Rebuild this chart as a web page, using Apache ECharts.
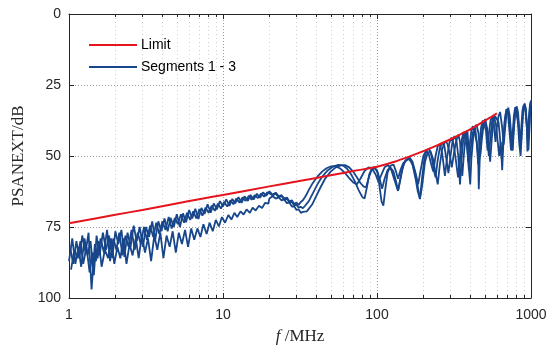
<!DOCTYPE html>
<html>
<head>
<meta charset="utf-8">
<script src="https://cdn.jsdelivr.net/npm/echarts@6/dist/echarts.min.js"></script>
<style>html,body{margin:0;padding:0;background:#fff}#c{width:552px;height:350px}</style>
</head>
<body>
<div id="c"></div>
<script>
// ---- data ----
const xTickLabels = ['1', '10', '100', '1000'];
const yTicks = [0, 25, 50, 75, 100];
const minorFreqs = [2,3,4,5,6,7,8,9,20,30,40,50,60,70,80,90,200,300,400,500,600,700,800,900];

const limitFreq = [1,2,3,5,7,10,20,30,50,70,100,130,160,200,250,300,350,400,450,500,550,600];
const limitVal  = [73.7,70.7,69,66.7,65.2,63.7,60.7,59,56.8,55.3,53.8,52,50.3,48.3,46.1,44.1,42.3,40.7,39.1,37.6,36.3,35];

const freqLowA = [1.00,1.05,1.10,1.15,1.20,1.26,1.32,1.38,1.45,1.51,1.58,1.66,1.74,1.82,1.91,2.00,2.09,2.19,2.29,2.40,2.51,2.63,2.75,2.88,3.02,3.16,3.31,3.47,3.63,3.80,3.98,4.17,4.37,4.57,4.79,5.01,5.25,5.50,5.75,6.03,6.31,6.61,6.92,7.24,7.59,7.94,8.32,8.71,9.12,9.55,10.0,10.5,11.0,11.5,12.0,12.6,13.2,13.8,14.5,15.1,15.8,16.6,17.4,18.2,19.1];
const freqLowB = [1.015,1.066,1.117,1.168,1.219,1.280,1.340,1.401,1.472,1.533,1.604,1.686,1.767,1.848,1.940,2.031,2.122,2.224,2.325,2.437,2.549,2.671,2.793,2.925,3.067,3.209,3.361,3.524,3.686,3.859,4.042,4.235,4.438,4.641,4.864,5.088,5.331,5.585,5.839,6.123,6.408,6.712,7.027,7.352,7.707,8.063,8.449,8.845,9.261,9.698,10.16,10.66,11.17,11.68,12.19,12.80,13.40,14.01,14.72,15.33,16.04,16.86,17.67,18.48,19.40];
const freqLowC = [1.031,1.083,1.134,1.186,1.237,1.299,1.361,1.423,1.495,1.557,1.629,1.711,1.794,1.876,1.969,2.062,2.155,2.258,2.361,2.474,2.588,2.712,2.835,2.969,3.114,3.258,3.413,3.578,3.743,3.918,4.103,4.299,4.505,4.712,4.938,5.165,5.413,5.671,5.928,6.217,6.506,6.815,7.135,7.464,7.825,8.186,8.578,8.980,9.403,9.846,10.31,10.83,11.34,11.86,12.37,12.99,13.61,14.23,14.95,15.57,16.29,17.11,17.94,18.76,19.69];

const seg1Low = [87,79,88,82,89,79,85,80,92,78,85,77,83,78,86,76.5,81,76,85.5,77,82,74.5,80,75,82,75,78.5,73,79.5,73,76.5,72,76.5,71.8,75,70.5,75,70.2,73.3,69,72,68.6,72.2,68.3,70.4,67,70,66.7,68.8,65.9,67.7,65.3,67.6,65.1,66.7,64.5,66.5,64.2,65.8,63.7,65.3,63.3,64.7,62.8,64];
const seg2Low = [82,88,80,86,78,84,77,97,81,86,79,84,76,87,79,83,77,85,78,82,76,83,77,81,75,79.5,74.5,78.5,73.5,77.5,73,76,71.5,75.5,71.8,74,70.5,73.5,70,72.5,69.5,72,68.7,71,68.2,70,67.5,69.3,66.8,68.5,66.2,67.8,65.6,67,65,66.4,64.6,65.8,64,65.4,63.8,64.8,63.2,64.3,62.8];
const seg3Low = [90,83,86,80,88,82,91,84,87,80,89,83,86,79,88,82,86,79,88,81,85,79,86,78,84,79,87,78,83,77,86,78,82,76.5,84,77,81,76,82,75.5,79.5,75.5,78.5,74,77.5,73.5,76.5,72.5,74.8,71.5,73.5,70.8,72.4,70,71.5,69.5,70.6,68.8,70,68.2,69.2,67.5,68.3,66.5,66.8];

const seg1High = [[20,62.5],[21,63.6],[22,62.9],[23,64.2],[24,63.8],[25,65],[26,64.6],[27,66],[28,65.6],[29,66.9],[30,66.4],[31,67.2],[32,66.2],[33,65.6],[34,64.5],[35,63.4],[36,62],[38,59.8],[41,57.3],[44,55.5],[47,54.3],[50,53.7],[54,53.6],[58,54.5],[62,56],[66,57.8],[70,59.3],[74,60],[78,58],[83,55.3],[88,54],[93,54.5],[98,56.5],[102,59],[106,57],[112,54],[118,53.2],[124,55],[130,58.5],[137,62.3],[144,56],[150,52.5],[156,51.3],[163,50.5],[170,52],[178,56],[185,60],[192,55],[200,50],[208,48.2],[216,49],[225,53],[232,55.5],[240,50],[248,46.5],[256,46],[265,49],[276,57],[286,50],[296,45],[305,43.5],[315,46],[326,52],[336,57.5],[346,50],[356,44],[365,41.5],[375,42],[385,47],[395,55],[405,48],[418,42],[430,40],[443,39],[456,42],[468,50],[480,44],[493,38.5],[505,37.3],[518,40],[530,46],[543,52],[556,44],[570,38],[585,36],[600,35.5],[615,38],[630,44],[645,51],[660,45],[675,38],[690,34.5],[705,33.5],[720,36],[738,43],[755,48],[770,41],[786,35],[800,33],[815,34],[830,39],[848,45],[865,40],[880,34],[897,32],[915,33],[935,38],[955,46],[972,40],[985,33],[1000,31]];
const seg2High = [[20,63],[21,63.9],[22,63.3],[23,64.6],[24,64.1],[25,65.5],[26,65],[27,66.4],[28,66.1],[29,67.4],[30,67.1],[31,68.2],[32,67.9],[33,68.4],[34,67.6],[36,66],[38,63.5],[41,60],[44,57.3],[48,55],[52,53.7],[56,53.1],[60,53.3],[64,54.5],[68,56.5],[72,59],[76,62],[80,64.3],[83,65],[86,61],[89,56.5],[93,54.2],[97,54],[101,56],[104,61],[107,66],[110,67.5],[113,62],[117,56],[122,53.5],[128,53],[133,55.5],[137,58],[142,55],[148,52.5],[155,51.5],[162,51],[170,53],[178,58],[184,62.5],[190,65],[196,58],[203,51],[210,48],[218,47.5],[226,50],[234,55],[240,57.5],[247,52],[255,47.5],[264,45.5],[273,46],[282,51],[291,56],[300,50],[309,45],[318,43],[328,44.5],[337,50],[346,60],[354,51],[362,45],[372,41.5],[382,42.5],[391,52],[400,46],[410,41],[420,39.5],[432,40],[444,45],[454,53],[462,46],[474,40],[486,37.5],[498,37],[510,41],[522,48],[533,42],[546,37.5],[560,36],[575,39],[588,45],[600,40],[615,36],[630,34.5],[650,40],[665,46],[680,40],[695,34.5],[712,33],[728,36],[745,43],[760,48],[776,40],[792,34],[808,32.5],[825,35],[842,42],[858,47],[875,39],[892,33],[910,31.5],[928,34],[945,41],[962,48],[978,40],[992,32],[1000,31.5]];
const seg3High = [[20,65],[21,64.2],[22,65],[23,64.6],[24,65.6],[25,65.3],[26,66.6],[27,66.4],[28,67.8],[29,67.7],[30,69],[31,68.8],[32,70],[33,69.7],[34,70.2],[35,69.5],[36,68.8],[38,67],[40,64.5],[43,61],[46,58],[50,55.5],[54,54],[58,53.3],[62,53.2],[66,54],[70,55.5],[74,57.5],[78,59.5],[82,60.8],[85,61],[88,58],[92,55],[96,54.3],[100,55],[104,58],[108,61.5],[112,58],[117,55],[122,54],[128,55.5],[133,59],[137,62.3],[141,59],[147,54],[153,51.5],[160,51],[168,52],[175,55],[183,60],[190,65.2],[197,60],[205,52],[213,49],[222,48.2],[231,51],[240,56],[248,60],[256,53],[264,48],[275,45],[286,45.5],[296,49],[306,54],[316,49],[327,44.5],[338,42.5],[346,45],[352,52],[358,57],[366,50],[376,43],[386,41],[391,45],[396,55],[403,60],[410,51],[422,43],[434,40],[446,40.5],[454,50],[458,61.7],[464,52],[476,43],[490,38.5],[504,37],[518,42],[532,50],[546,43],[560,37.5],[575,36],[592,39],[608,45],[622,50],[636,45],[650,55],[662,45],[676,37],[692,33.5],[708,35],[724,41],[742,48],[758,43],[774,36],[790,32.8],[806,33.5],[822,38],[840,46],[856,50],[872,42],[888,35],[905,32],[922,33],[940,40],[948,48.4],[958,42],[972,35],[988,31.5],[1000,30.5]];

// ---- build ----
const BLUE = '#17468a', RED = '#e5141d', INK = '#262626';
const lowPairs = (freqs, vals) => freqs.map((f, i) => [f, vals[i]]);
const seg1 = lowPairs(freqLowA, seg1Low).concat(seg1High);
const seg2 = lowPairs(freqLowB, seg2Low).concat(seg2High);
const seg3 = lowPairs(freqLowC, seg3Low).concat(seg3High);
const limit = limitFreq.map((f, i) => [f, limitVal[i]]);

const tickFont = {fontFamily: 'Liberation Sans, Arial, sans-serif', fontSize: 14, color: INK};
const serif = 'Liberation Serif, Times New Roman, serif';

const chart = echarts.init(document.getElementById('c'), null, {renderer: 'canvas'});
const segLine = (data) => ({
  name: 'Segments 1 - 3', type: 'line', data, showSymbol: false, symbol: 'none',
  lineStyle: {color: BLUE, width: 1.8}, itemStyle: {color: BLUE}, z: 3, animation: false
});
chart.setOption({
  animation: false,
  grid: {left: 69, right: 21, top: 14, bottom: 48, containLabel: false},
  legend: {
    data: ['Limit', 'Segments 1 - 3'], orient: 'vertical', left: 84, top: 33,
    itemWidth: 48, itemHeight: 2, icon: 'rect', itemGap: 8,
    textStyle: {fontFamily: 'Liberation Sans, Arial, sans-serif', fontSize: 14, color: '#000', padding: [0, 0, 0, -1]},
    backgroundColor: 'rgba(255,255,255,0)'
  },
  xAxis: [{
    type: 'log', logBase: 10, min: 1, max: 1000, position: 'bottom',
    axisLine: {show: true, onZero: false, lineStyle: {color: INK, width: 1}},
    axisTick: {show: true, inside: true, length: 5, lineStyle: {color: INK}},
    axisLabel: Object.assign({margin: 10, formatter: (v) => xTickLabels[Math.round(Math.log10(v))]}, tickFont),
    splitLine: {show: true, lineStyle: {color: '#9a9a9a', type: [1, 2], width: 1}},
    name: '{i|f}{n| /MHz}', nameLocation: 'middle', nameGap: 30,
    nameTextStyle: {rich: {
      i: {fontFamily: serif, fontStyle: 'italic', fontSize: 17, color: INK},
      n: {fontFamily: serif, fontSize: 17, color: INK}
    }}
  }, {
    type: 'log', logBase: 10, min: 1, max: 1000, position: 'top',
    axisLine: {show: true, onZero: false, lineStyle: {color: INK, width: 1}},
    axisTick: {show: true, inside: true, length: 5, lineStyle: {color: INK}},
    axisLabel: {show: false}, splitLine: {show: false}
  }],
  yAxis: [{
    type: 'value', inverse: true, min: 0, max: 100, interval: 25, position: 'left',
    axisLine: {show: true, onZero: false, lineStyle: {color: INK, width: 1}},
    axisTick: {show: true, inside: true, length: 5, lineStyle: {color: INK}},
    axisLabel: Object.assign({margin: 8, formatter: (v) => String(yTicks[Math.round(v / 25)])}, tickFont),
    splitLine: {show: true, lineStyle: {color: '#9a9a9a', type: [1, 2], width: 1}},
    name: 'PSANEXT/dB', nameLocation: 'middle', nameGap: 39,
    nameTextStyle: {fontFamily: serif, fontSize: 17, color: INK}
  }, {
    type: 'value', inverse: true, min: 0, max: 100, interval: 25, position: 'right',
    axisLine: {show: true, onZero: false, lineStyle: {color: INK, width: 1}},
    axisTick: {show: true, inside: true, length: 5, lineStyle: {color: INK}},
    axisLabel: {show: false}, splitLine: {show: false}
  }],
  series: [
    {
      name: 'minor', type: 'custom', silent: true, z: 1, xAxisIndex: 0, yAxisIndex: 0,
      data: minorFreqs.map(f => [f, 0]),
      encode: {x: 0, y: 1},
      renderItem: (params, api) => {
        const x = Math.round(api.coord([api.value(0), 0])[0]) + 0.5;
        const cs = params.coordSys;
        const top = cs.y, bot = cs.y + cs.height;
        return {type: 'group', children: [
          {type: 'line', shape: {x1: x, y1: top, x2: x, y2: bot}, style: {stroke: '#cfcfcf', lineWidth: 1, lineDash: [1, 3]}},
          {type: 'line', shape: {x1: x, y1: bot, x2: x, y2: bot - 3}, style: {stroke: INK, lineWidth: 1}},
          {type: 'line', shape: {x1: x, y1: top, x2: x, y2: top + 3}, style: {stroke: INK, lineWidth: 1}}
        ]};
      }
    },
    segLine(seg3),
    segLine(seg2),
    segLine(seg1),
    {
      name: 'Limit', type: 'line', data: limit, showSymbol: false, symbol: 'none', smooth: 0.3,
      lineStyle: {color: RED, width: 2}, itemStyle: {color: RED}, z: 4, animation: false
    }
  ]
});
</script>
</body>
</html>
